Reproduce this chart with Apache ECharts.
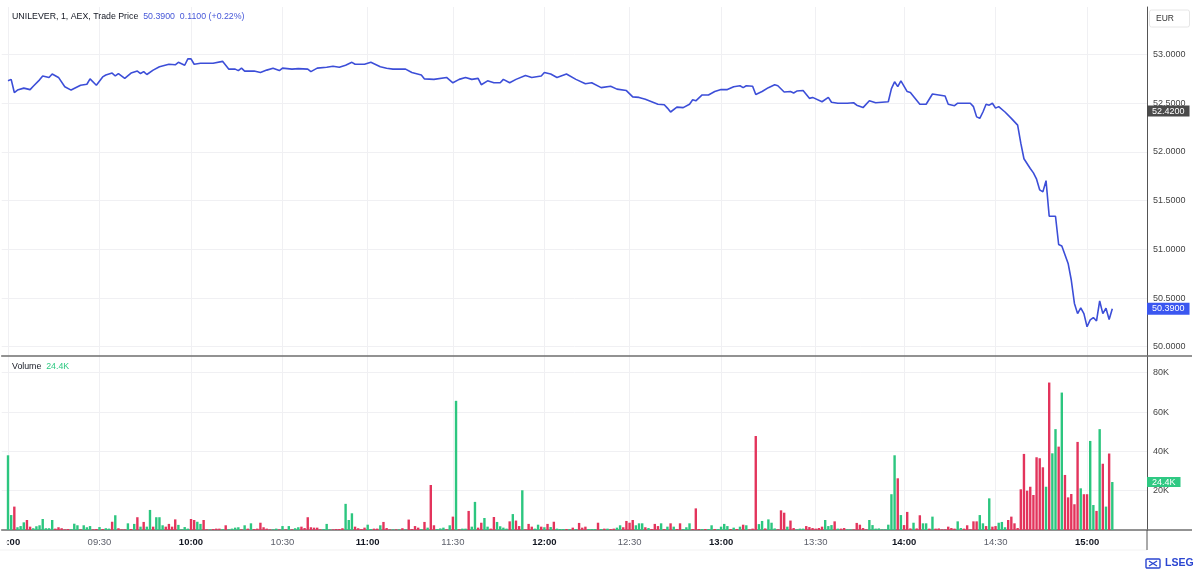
<!DOCTYPE html>
<html>
<head>
<meta charset="utf-8">
<script src="https://cdn.jsdelivr.net/npm/echarts@6/dist/echarts.min.js"></script>
<style>html,body{margin:0;padding:0;background:#fff}#c{width:1199px;height:571px}</style>
</head>
<body>
<div id="c"></div>
<script>
// ---------------- DATA ----------------
const instrument = 'UNILEVER, 1, AEX, Trade Price';
const currency = 'EUR';
const lastPrice = 50.39;
const priceChange = 0.11;
const priceChangePct = 0.22;
const refPrice = 52.42;
const lastVolumeK = 24.4;

const firstMinute = '09:00';
const lastMinute = '15:08';
// minutes without a bar
const missingMinutes = ['09:21','09:52','10:17','10:33','10:41','10:47','11:04','11:09','11:16','11:44',
  '12:06','12:13','12:24','12:37','13:38','13:51','14:08','14:34'];

// price line vertices
const priceTimes = [
 '09:00','09:01','09:02','09:03','09:05','09:07','09:08','09:10','09:11','09:13','09:14','09:16','09:18','09:20','09:24','09:26','09:27','09:29',
 '09:31','09:32','09:34','09:35','09:36','09:38','09:40','09:42','09:43','09:44','09:45','09:47','09:49','09:53','09:55','09:56','09:58','09:59',
 '10:00','10:01','10:03','10:05','10:07','10:10','10:12','10:14','10:15','10:16','10:18','10:21','10:23','10:25','10:27','10:29',
 '10:30','10:34','10:36','10:39','10:40','10:43','10:46','10:49','10:51','10:53','10:55','10:56','10:59',
 '11:01','11:05','11:07','11:10','11:14','11:17','11:20','11:21','11:24','11:28',
 '11:30','11:32','11:34','11:36','11:38','11:39','11:41','11:43','11:46','11:47','11:49','11:51','11:54','11:56','11:59',
 '12:00','12:02','12:04','12:08','12:11','12:15','12:17','12:20','12:23','12:26','12:29',
 '12:31','12:33','12:35','12:38','12:40','12:42','12:43','12:44','12:46','12:48','12:50','12:51','12:52','12:54','12:56','12:58',
 '13:00','13:02','13:04','13:06','13:07','13:08','13:10','13:11','13:13','13:15','13:17','13:18','13:20','13:22','13:23','13:24','13:26','13:28','13:29',
 '13:32','13:34','13:35','13:37','13:41','13:43','13:44','13:46','13:48','13:50','13:55','13:56','13:57','13:58','13:59',
 '14:01','14:02','14:05','14:07','14:10','14:12','14:14','14:15','14:17','14:18','14:22','14:23','14:24','14:25','14:26','14:27','14:28','14:29',
 '14:30','14:31','14:33','14:36','14:38','14:39','14:40','14:42','14:43','14:44','14:45','14:46','14:47','14:48','14:50','14:51','14:52','14:54','14:55','14:56','14:57','14:58','14:59',
 '15:00','15:01','15:02','15:03','15:04','15:05','15:06','15:07','15:08'
];
const prices = [
 52.73,52.745,52.61,52.635,52.655,52.64,52.675,52.74,52.78,52.765,52.80,52.765,52.67,52.635,52.685,52.695,52.75,52.685,
 52.77,52.79,52.81,52.78,52.805,52.755,52.81,52.83,52.805,52.825,52.795,52.84,52.875,52.90,52.895,52.92,52.89,52.955,
 52.955,52.90,52.91,52.91,52.91,52.93,52.85,52.85,52.835,52.86,52.83,52.83,52.815,52.84,52.86,52.835,
 52.86,52.85,52.855,52.85,52.825,52.86,52.87,52.88,52.87,52.89,52.92,52.90,52.90,
 52.92,52.875,52.86,52.85,52.85,52.815,52.79,52.75,52.745,52.765,
 52.71,52.745,52.765,52.745,52.755,52.69,52.73,52.71,52.71,52.745,52.71,52.745,52.785,52.765,52.78,
 52.815,52.80,52.765,52.80,52.745,52.70,52.71,52.66,52.675,52.645,52.63,
 52.565,52.56,52.54,52.515,52.49,52.485,52.45,52.41,52.46,52.455,52.49,52.535,52.525,52.585,52.585,52.62,
 52.64,52.64,52.67,52.68,52.66,52.68,52.675,52.59,52.62,52.66,52.69,52.68,52.615,52.62,52.605,52.625,52.63,52.55,52.56,
 52.515,52.56,52.51,52.50,52.50,52.505,52.48,52.455,52.525,52.505,52.515,52.65,52.72,52.67,52.73,
 52.62,52.61,52.49,52.49,52.595,52.585,52.575,52.49,52.475,52.50,52.50,52.465,52.36,52.345,52.41,52.49,52.48,52.50,
 52.45,52.465,52.41,52.345,52.275,52.09,51.93,51.83,51.785,51.72,51.61,51.59,51.705,51.34,51.34,51.05,51.035,50.855,50.685,50.445,50.34,50.40,50.34,
 50.205,50.275,50.30,50.265,50.47,50.34,50.395,50.28,50.39
];

// volume per minute bar (thousands), one per traded minute from 09:00
const volumesK = [
 38,7.6,11.9,1.4,2.0,3.9,5.1,1.7,0.9,1.9,
 2.4,5.6,0.9,0.9,5.1,0.7,1.4,0.9,0.3,0.5,
 0.4,3.2,2.4,0.3,2.4,1.4,2.0,0.3,0.5,1.5,
 0.5,0.9,0.7,4.2,7.5,0.9,0.3,0.3,3.4,0.5,
 3.1,6.5,1.7,4.1,1.7,10.2,1.7,6.5,6.5,2.4,
 1.7,3.1,1.7,5.4,2.6,0.3,1.5,0.7,5.6,5.1,
 4.2,3.1,5.1,0.3,0.3,0.5,0.7,0.7,0.5,2.4,
 0.3,0.7,1.2,1.4,0.3,2.4,0.7,3.4,0.5,0.7,
 3.7,1.4,0.7,0.3,0.3,0.7,0.3,2.0,0.3,2.0,
 0.3,0.9,1.4,1.7,1.0,6.5,1.4,1.2,1.2,0.3,
 0.5,3.1,0.3,0.3,0.5,0.5,0.9,13.3,5.1,8.5,
 1.7,0.9,0.5,1.2,2.7,0.5,0.7,0.7,2.4,4.1,
 1.0,0.3,0.3,0.3,0.3,0.9,0.3,5.3,0.5,2.0,
 1.2,0.5,4.1,1.2,22.9,2.4,0.5,0.8,1.2,0.3,
 2.4,6.8,65.7,0.3,0.7,0.7,9.7,1.7,14.3,1.2,
 3.7,6.1,1.7,0.7,6.6,4.1,1.9,1.2,0.7,4.4,
 8.1,4.8,2.0,20.2,0.3,3.1,1.7,0.7,2.7,1.7,
 1.4,3.1,1.5,4.2,0.7,0.5,0.5,0.5,0.5,1.2,
 0.5,3.6,1.2,1.7,0.5,0.5,0.5,3.7,0.5,0.7,
 0.7,0.5,0.7,1.2,2.4,1.4,4.6,3.7,5.1,2.4,
 3.4,3.4,1.4,1.0,0.5,3.1,2.0,3.4,0.5,1.7,
 3.4,1.7,0.5,3.4,0.5,1.4,3.4,0.5,11.0,0.5,
 0.5,0.5,0.5,2.4,0.5,0.5,1.7,3.1,2.0,0.5,
 1.2,0.5,1.7,2.7,2.4,0.3,0.7,47.8,3.0,4.6,
 0.8,5.4,3.7,0.8,0.3,10.0,8.8,1.7,4.8,1.0,
 0.3,0.7,0.7,2.0,1.5,1.0,0.7,1.0,1.7,5.1,
 2.0,2.5,4.4,0.7,0.7,1.0,0.3,0.3,0.3,3.6,
 2.7,1.0,0.3,5.1,2.5,0.7,0.8,0.3,0.3,2.7,
 18.2,38.0,26.3,7.6,2.5,9.2,0.8,3.7,0.8,7.5,
 3.4,3.4,0.7,6.8,0.7,0.8,0.3,0.3,1.7,1.0,
 0.7,4.4,1.0,0.7,2.4,0.3,4.4,4.4,7.6,3.4,
 2.0,16.1,1.7,2.0,3.7,4.1,1.4,5.1,6.8,3.4,
 1.0,20.7,38.7,20.0,22.0,17.8,37.0,36.5,31.9,22.0,
 75.0,39.0,51.3,42.4,69.9,28.0,16.6,18.3,13.1,44.8,
 21.2,18.2,18.2,45.3,12.7,9.7,51.3,33.7,11.9,38.9,
 24.4
];
// G = up bar, R = down bar
const volumeDirection = (
 'GGRGGGRRGG GGGGGRRRRR GGGRGGGRRG RGGRGRRRGR GRGRGGRGGG RRRRGGGGRR GGRRGRRRGR GGGGRGRGRR RRRRGGRGRG RGGRRRRRRR ' +
 'GGGRRRRGGG RRRRGGRRGR RRGRGRGRRR RGRGRRGGGR GRGRGGRGGR RGGRRGGGGR GRRGRRRGGR GRGRGGGRGR GRRRGGGRGR GRRGGRRRRG ' +
 'GGRGRRRGRG RGRRGGGRRR GRGGRGGGGR GRGRGRRRGG RGGGRRRGRR GGGRRRRRRG GGRGRRGGRR RRRGGGGGGG GGRGRRRGRR GGRGRRRRRR ' +
 'RGGRRRRRGG RGRRGGGRRR RRRRRRRRRG RGGRGRRRRR GRRGGRGRGR G').replace(/ /g, '');

const priceTicks = [50, 50.5, 51, 51.5, 52, 52.5, 53];
const volumeTicksK = [20, 40, 60, 80];

// ---------------- BUILD ----------------
const leadPad = 2, tailPad = 11;
function toMin(t){const p=t.split(':');return (+p[0])*60+(+p[1]);}
function toLabel(m){return String(Math.floor(m/60)).padStart(2,'0')+':'+String(m%60).padStart(2,'0');}
const tradeMinutes = [];
for (let m = toMin(firstMinute); m <= toMin(lastMinute); m++) {
  const t = toLabel(m);
  if (!missingMinutes.includes(t)) tradeMinutes.push(t);
}
const categories = [];
for (let i = 0; i < leadPad; i++) categories.push('lead' + i);
tradeMinutes.forEach(t => categories.push(t));
for (let i = 0; i < tailPad; i++) categories.push('tail' + i);

const UP = '#2cc67f', DOWN = '#e3345c', LINE = '#3c4ed8', TAGBLUE = '#3b57f0';
const FONT = 'Liberation Sans';

const priceData = [];
priceTimes.forEach((t, i) => { const k = categories.indexOf(t); if (k >= 0) priceData.push([k, prices[i]]); });

const volData = categories.map(c => {
  const k = tradeMinutes.indexOf(c);
  if (k < 0 || volumesK[k] == null) return '-';
  return { value: volumesK[k], itemStyle: { color: volumeDirection[k] === 'G' ? UP : DOWN } };
});

const isMark = (v) => typeof v === 'string' && (v.endsWith(':00') || v.endsWith(':30')) && v.indexOf(':') === 2;
const markInterval = (idx, v) => isMark(v);

const GRID_L = 1.7, GRID_R = 1147;
const splitColor = '#f0f0f3';

const chart = echarts.init(document.getElementById('c'), null, { renderer: 'canvas' });
chart.setOption({
  animation: false,
  backgroundColor: '#ffffff',
  textStyle: { fontFamily: FONT },
  grid: [
    { left: GRID_L, top: 7, width: GRID_R - GRID_L, height: 349, outerBoundsMode: 'none', containLabel: false },
    { left: GRID_L, top: 356, width: GRID_R - GRID_L, height: 174, outerBoundsMode: 'none', containLabel: false }
  ],
  xAxis: [
    {
      type: 'category', gridIndex: 0, data: categories, boundaryGap: false,
      axisLine: { show: true, lineStyle: { color: '#6f6f6f', width: 1.5 } },
      axisTick: { show: false }, axisLabel: { show: false, interval: markInterval },
      splitLine: { show: true, interval: markInterval, lineStyle: { color: splitColor, width: 1 } }
    },
    {
      type: 'category', gridIndex: 1, data: categories, boundaryGap: false,
      axisLine: { show: true, lineStyle: { color: '#6f6f6f', width: 1.5 } },
      axisTick: { show: false },
      axisLabel: {
        show: true, interval: markInterval, margin: 7,
        formatter: v => v.endsWith(':00') ? '{h|' + v + '}' : '{m|' + v + '}',
        rich: {
          h: { fontWeight: 'bold', color: '#131722', fontSize: 9.5, fontFamily: FONT },
          m: { color: '#5d606b', fontSize: 9.5, fontFamily: FONT }
        }
      },
      splitLine: { show: true, interval: markInterval, lineStyle: { color: splitColor, width: 1 } }
    }
  ],
  yAxis: [
    {
      type: 'value', gridIndex: 0, position: 'right', min: 49.905, max: 53.488, scale: true,
      axisLine: { show: true, lineStyle: { color: '#555', width: 1 } },
      axisTick: { show: false, customValues: priceTicks },
      axisLabel: { customValues: priceTicks, margin: 6, color: '#444', fontSize: 9, fontFamily: FONT,
        formatter: v => Number(v).toFixed(4) },
      splitLine: { show: true, lineStyle: { color: splitColor, width: 1 } }
    },
    {
      type: 'value', gridIndex: 1, position: 'right', min: 0, max: 88.5,
      axisLine: { show: true, lineStyle: { color: '#555', width: 1 } },
      axisTick: { show: false, customValues: volumeTicksK },
      axisLabel: { customValues: volumeTicksK, margin: 6, color: '#444', fontSize: 9, fontFamily: FONT,
        formatter: v => v + 'K' },
      splitLine: { show: true, lineStyle: { color: splitColor, width: 1 } }
    }
  ],
  series: [
    {
      type: 'line', xAxisIndex: 0, yAxisIndex: 0, data: priceData,
      showSymbol: false, symbol: 'none', smooth: false, z: 5,
      lineStyle: { color: LINE, width: 1.6 },
      markLine: {
        silent: true, symbol: 'none', animation: false,
        lineStyle: { color: 'rgba(0,0,0,0)', width: 0, type: 'solid' },
        label: { show: true, position: 'end', distance: 0, color: '#fff', fontSize: 9, fontFamily: FONT, opacity: 1 },
        data: [
          { yAxis: refPrice, label: { formatter: refPrice.toFixed(4), backgroundColor: '#4a4a4a', padding: [1, 5, 0, 5], lineHeight: 10 } },
          { yAxis: lastPrice, label: { formatter: lastPrice.toFixed(4), backgroundColor: TAGBLUE, padding: [1, 5, 1, 5], lineHeight: 10 } }
        ]
      }
    },
    {
      type: 'bar', xAxisIndex: 1, yAxisIndex: 1, data: volData, barWidth: 2.4, z: 3,
      markLine: {
        silent: true, symbol: 'none', animation: false,
        lineStyle: { color: 'rgba(0,0,0,0)', width: 0 },
        label: { show: true, position: 'end', distance: 0, color: '#fff', fontSize: 9, fontFamily: FONT, opacity: 1,
          backgroundColor: '#2fc983', padding: [1, 5, 0, 5], lineHeight: 9 },
        data: [{ yAxis: lastVolumeK, label: { formatter: lastVolumeK.toFixed(1) + 'K' } }]
      }
    }
  ],
  graphic: [
    { type: 'text', x: 12, y: 17, z: 20, style: {
        text: instrument + '  {b|' + lastPrice.toFixed(4) + '  ' + priceChange.toFixed(4) + ' (+' + priceChangePct.toFixed(2) + '%)}',
        fill: '#131722', fontSize: 8.8, fontFamily: FONT, verticalAlign: 'middle',
        rich: { b: { fill: '#4657d8', fontSize: 8.8, fontFamily: FONT } } } },
    { type: 'text', x: 12, y: 367, z: 20, style: {
        text: 'Volume  {g|' + lastVolumeK.toFixed(1) + 'K}', fill: '#131722', fontSize: 8.8, fontFamily: FONT, verticalAlign: 'middle',
        rich: { g: { fill: '#2fc983', fontSize: 8.8, fontFamily: FONT } } } },
    // currency box
    { type: 'rect', z: 20, shape: { x: 1149.5, y: 10, width: 40, height: 17, r: 2 }, style: { fill: '#fff', stroke: '#e6e6e6', lineWidth: 1 } },
    { type: 'text', x: 1156, y: 18.5, z: 21, style: { text: currency, fill: '#333', fontSize: 8.5, fontFamily: FONT, verticalAlign: 'middle' } },
    // pane separator / axis extensions into the scale column
    { type: 'line', z: 20, shape: { x1: GRID_R, y1: 356, x2: 1192, y2: 356 }, style: { stroke: '#6f6f6f', lineWidth: 1.5 } },
    { type: 'line', z: 20, shape: { x1: GRID_R, y1: 530, x2: 1192, y2: 530 }, style: { stroke: '#6f6f6f', lineWidth: 1.5 } },
    { type: 'line', z: 20, shape: { x1: GRID_R, y1: 530, x2: GRID_R, y2: 550 }, style: { stroke: '#555', lineWidth: 1 } },
    { type: 'line', z: 1, shape: { x1: 0, y1: 550, x2: GRID_R, y2: 550 }, style: { stroke: '#f2f2f2', lineWidth: 1 } },
    // left clip of the time scale
    { type: 'rect', z: 30, shape: { x: 0, y: 532, width: 6, height: 17 }, style: { fill: '#fff' } },
    // provider mark
    { type: 'group', x: 1146, y: 559, z: 20, children: [
        { type: 'rect', shape: { x: 0, y: 0, width: 14, height: 9, r: 1 }, style: { fill: 'none', stroke: '#2b46d1', lineWidth: 1.4 } },
        { type: 'line', shape: { x1: 3, y1: 2, x2: 11, y2: 7 }, style: { stroke: '#2b46d1', lineWidth: 1.4 } },
        { type: 'line', shape: { x1: 11, y1: 2, x2: 3, y2: 7 }, style: { stroke: '#2b46d1', lineWidth: 1.4 } }
    ] },
    { type: 'text', x: 1165, y: 563.5, z: 20, style: { text: 'LSEG', fill: '#2b46d1', fontSize: 10.5, fontWeight: 'bold', fontFamily: FONT, verticalAlign: 'middle' } }
  ]
});
</script>
</body>
</html>
